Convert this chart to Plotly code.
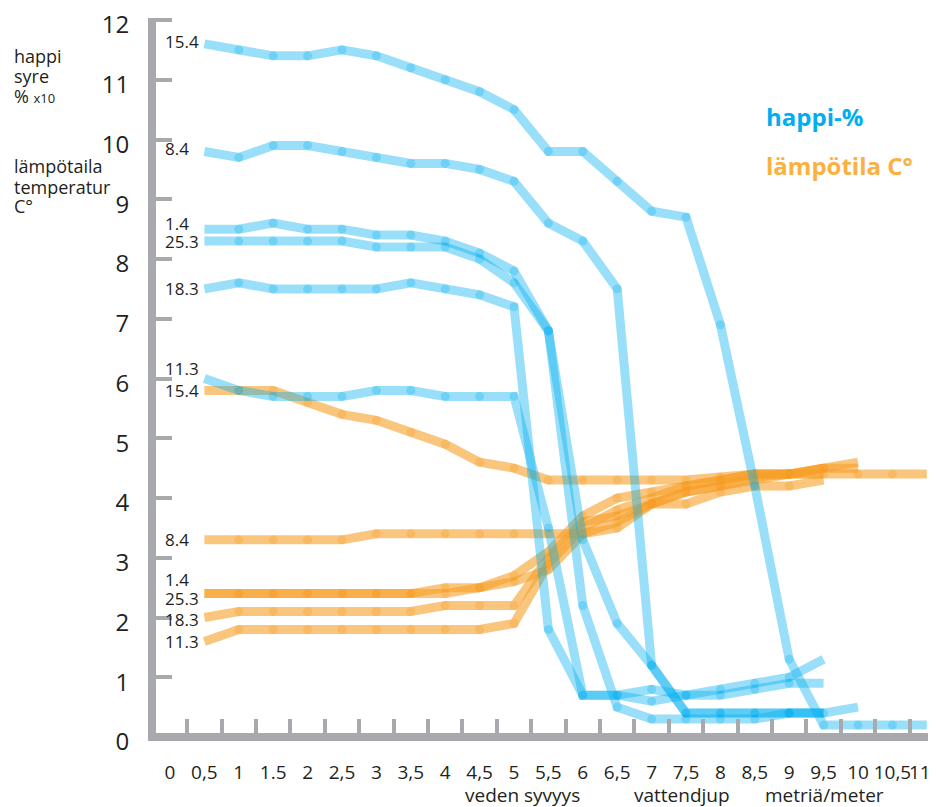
import plotly.graph_objects as go

# ---------------- data ----------------
depth = [0.5, 1.0, 1.5, 2.0, 2.5, 3.0, 3.5, 4.0, 4.5, 5.0, 5.5,
         6.0, 6.5, 7.0, 7.5, 8.0, 8.5, 9.0, 9.5, 10.0, 10.5, 11.0]

dates = ["15.4", "8.4", "1.4", "25.3", "18.3", "11.3"]

# oxygen (happi-%, x10)
oxy_15_4 = [11.6, 11.5, 11.4, 11.4, 11.5, 11.4, 11.2, 11.0, 10.8, 10.5, 9.8,
            9.8, 9.3, 8.8, 8.7, 6.9, 4.2, 1.3, 0.2, 0.2, 0.2, 0.2]
oxy_8_4 = [9.8, 9.7, 9.9, 9.9, 9.8, 9.7, 9.6, 9.6, 9.5, 9.3, 8.6,
           8.3, 7.5, 1.2, 0.4, 0.4, 0.4, 0.4, 0.4, 0.5]
oxy_1_4 = [8.5, 8.5, 8.6, 8.5, 8.5, 8.4, 8.4, 8.3, 8.1, 7.8, 6.8,
           3.3, 1.9, 1.2, 0.4, 0.4, 0.4, 0.4, 0.4]
oxy_25_3 = [8.3, 8.3, 8.3, 8.3, 8.3, 8.2, 8.2, 8.2, 8.0, 7.6, 6.8,
            2.2, 0.5, 0.3, 0.3, 0.3, 0.3, 0.4, 0.4]
oxy_18_3 = [7.5, 7.6, 7.5, 7.5, 7.5, 7.5, 7.6, 7.5, 7.4, 7.2, 1.8,
            0.7, 0.7, 0.6, 0.7, 0.7, 0.8, 0.9, 0.9]
oxy_11_3 = [6.0, 5.8, 5.7, 5.7, 5.7, 5.8, 5.8, 5.7, 5.7, 5.7, 3.5,
            0.7, 0.7, 0.8, 0.7, 0.8, 0.9, 1.0, 1.3]

# temperature (lämpötila C°)
tmp_15_4 = [5.8, 5.8, 5.8, 5.6, 5.4, 5.3, 5.1, 4.9, 4.6, 4.5, 4.3,
            4.3, 4.3, 4.3, 4.3, 4.35, 4.4, 4.4, 4.4, 4.4, 4.4, 4.4]
tmp_8_4 = [3.3, 3.3, 3.3, 3.3, 3.3, 3.4, 3.4, 3.4, 3.4, 3.4, 3.4,
           3.4, 3.6, 3.9, 4.1, 4.2, 4.3, 4.4, 4.4]
tmp_1_4 = [2.4, 2.4, 2.4, 2.4, 2.4, 2.4, 2.4, 2.5, 2.5, 2.7, 3.1,
           3.7, 4.0, 4.1, 4.2, 4.3, 4.4, 4.4, 4.5, 4.6]
tmp_25_3 = [2.4, 2.4, 2.4, 2.4, 2.4, 2.4, 2.4, 2.4, 2.5, 2.6, 2.8,
            3.4, 3.5, 3.9, 3.9, 4.1, 4.2, 4.2, 4.3]
tmp_18_3 = [2.0, 2.1, 2.1, 2.1, 2.1, 2.1, 2.1, 2.2, 2.2, 2.2, 3.0,
            3.6, 3.7, 3.9, 4.1, 4.2, 4.35, 4.4, 4.5]
tmp_11_3 = [1.6, 1.8, 1.8, 1.8, 1.8, 1.8, 1.8, 1.8, 1.8, 1.9, 2.9,
            3.5, 3.8, 4.0, 4.2, 4.3, 4.4, 4.4, 4.5, 4.5]

oxy_series = [oxy_15_4, oxy_8_4, oxy_1_4, oxy_25_3, oxy_18_3, oxy_11_3]
tmp_series = [tmp_15_4, tmp_8_4, tmp_1_4, tmp_25_3, tmp_18_3, tmp_11_3]

x_tick_vals = [0, 0.5, 1, 1.5, 2, 2.5, 3, 3.5, 4, 4.5, 5, 5.5, 6, 6.5, 7,
               7.5, 8, 8.5, 9, 9.5, 10, 10.5, 11]
x_tick_text = ["0", "0,5", "1", "1.5", "2", "2,5", "3", "3,5", "4", "4,5",
               "5", "5,5", "6", "6,5", "7", "7,5", "8", "8,5", "9", "9,5",
               "10", "10,5", "11"]
y_tick_vals = list(range(0, 13))

# ---------------- style ----------------
OFF = 8  # page body margin offset
W, H = 936 - OFF, 807 - OFF
L, R, T, B = 156 - OFF, 0, 18 - OFF, 66
PW, PH = W - L - R, H - T - B
GRAY = "#a7a9ac"
TXT = "#231f20"
FONT = "Open Sans"

BLUE_LINE = "rgba(0,174,239,0.40)"
BLUE_MARK = "rgba(0,174,239,0.38)"
ORNG_LINE = "rgba(247,160,40,0.60)"
ORNG_MARK = "rgba(247,150,30,0.40)"

oxy_label_shift = [2, 3, 6, 0, 0, 10]
tmp_label_shift = [0, 0, 14, -5, -2, 0]

fig = go.Figure()


def add_series(vals, name, lcol, mcol, group):
    n = len(vals)
    sizes = [0] + [9] * (n - 2) + [0]
    fig.add_trace(go.Scatter(
        x=depth[:n], y=vals, mode="lines+markers", name=name,
        legendgroup=group, showlegend=False,
        line=dict(color=lcol, width=9),
        marker=dict(color=mcol, size=sizes, line=dict(width=0)),
        hoverinfo="x+y+name",
    ))


for d, v in zip(dates, tmp_series):
    add_series(v, "lämpötila " + d, ORNG_LINE, ORNG_MARK, "t")
for d, v in zip(dates, oxy_series):
    add_series(v, "happi " + d, BLUE_LINE, BLUE_MARK, "o")


def px_to_paper(px, py):
    # px, py given in reference page pixels
    px -= OFF
    py -= OFF
    return (px - L) / PW, (H - B - py) / PH


annotations = []
# series date labels
for d, v, s in zip(dates, oxy_series, oxy_label_shift):
    annotations.append(dict(x=-0.1, y=v[0], xref="x", yref="y", text=d,
                            xanchor="left", yanchor="middle", yshift=s,
                            showarrow=False, font=dict(size=17, color=TXT, family=FONT)))
for d, v, s in zip(dates, tmp_series, tmp_label_shift):
    annotations.append(dict(x=-0.1, y=v[0], xref="x", yref="y", text=d,
                            xanchor="left", yanchor="middle", yshift=s,
                            showarrow=False, font=dict(size=17, color=TXT, family=FONT)))

# left titles
left_lines = [("happi", 56), ("syre", 76), ("% <span style='font-size:13px'>x10</span>", 96),
              ("lämpötaila", 166), ("temperatur", 187), ("C°", 206)]
for txt, py in left_lines:
    px, pyp = px_to_paper(12, py)
    annotations.append(dict(x=px, y=pyp, xref="paper", yref="paper", text=txt,
                            xanchor="left", yanchor="middle", showarrow=False,
                            font=dict(size=18, color=TXT, family=FONT)))

# legend texts
for txt, col, py in [("happi-%", "#00aeef", 117), ("lämpötila C°", "#fbb040", 165)]:
    px, pyp = px_to_paper(764, py)
    annotations.append(dict(x=px, y=pyp, xref="paper", yref="paper", text="<b>" + txt + "</b>",
                            xanchor="left", yanchor="middle", showarrow=False,
                            font=dict(size=24, color=col, family=FONT)))

# bottom axis titles
for txt, pxl in [("veden syvyys", 463), ("vattendjup", 632), ("metriä/meter", 763)]:
    px, pyp = px_to_paper(pxl, 795)
    annotations.append(dict(x=px, y=pyp, xref="paper", yref="paper", text=txt,
                            xanchor="left", yanchor="middle", showarrow=False,
                            font=dict(size=19, color=TXT, family=FONT)))

# last x label ("11") sits at the right page edge; drawn right-aligned so it is not clipped
px, pyp = px_to_paper(933, 772)
annotations.append(dict(x=px, y=pyp, xref="paper", yref="paper", text=x_tick_text[-1],
                        xanchor="right", yanchor="middle", showarrow=False,
                        font=dict(size=19, color=TXT, family=FONT)))

x0 = -14 / 68.8
x1 = x0 + PW / 68.8
y0 = -4 / 59.75
y1 = y0 + PH / 59.75

fig.update_layout(
    width=W, height=H,
    margin=dict(l=L, r=R, t=T, b=B),
    paper_bgcolor="white", plot_bgcolor="white",
    font=dict(family=FONT, color=TXT),
    annotations=annotations,
    xaxis=dict(
        range=[x0, x1], showgrid=False, zeroline=False, showline=False,
        tickmode="array", tickvals=x_tick_vals[:-1], ticktext=x_tick_text[:-1],
        ticks="", tickfont=dict(size=19, color=TXT, family=FONT),
        ticklabelstandoff=18, automargin=False,
        minor=dict(tickvals=[v + 0.25 for v in x_tick_vals[:-1]], ticks="inside",
                   ticklen=22, tickwidth=4, tickcolor=GRAY, showgrid=False),
    ),
    yaxis=dict(
        range=[y0, y1], showgrid=False, automargin=False,
        zeroline=True, zerolinewidth=8, zerolinecolor=GRAY,
        showline=True, linewidth=8, linecolor=GRAY,
        tickmode="array", tickvals=y_tick_vals,
        ticks="inside", ticklen=16, tickwidth=4, tickcolor=GRAY,
        tickfont=dict(size=24, color=TXT, family=FONT),
        ticklabelstandoff=14, ticklabelshift=5, ticklabeloverflow="allow",
    ),
)

fig.write_html("out.html")
